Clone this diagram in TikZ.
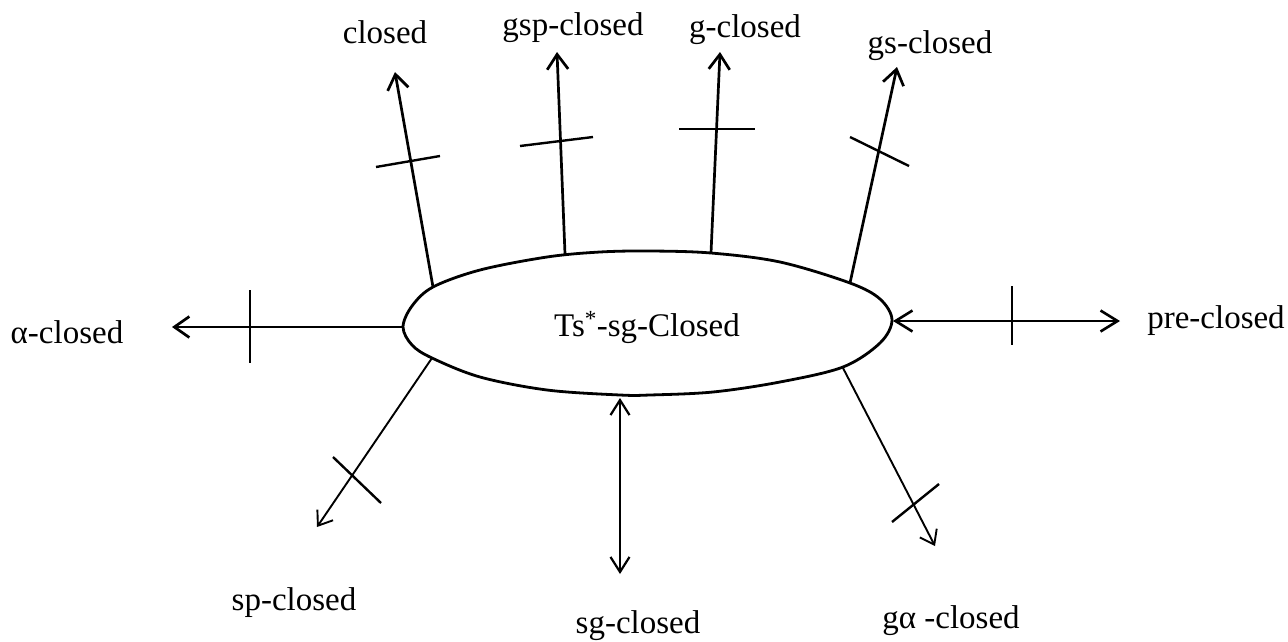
\documentclass[tikz,border=0pt]{standalone}
\usepackage{fontspec}
\setmainfont{Liberation Serif}
\usetikzlibrary{arrows.meta}
\begin{document}
\begin{tikzpicture}[x=1pt,y=-1pt,
  lbl/.style={font=\fontsize{33}{38}\selectfont, anchor=base, inner sep=0pt},
  conn/.style={line width=2.7pt, -{Straight Barb[length=15pt,width=21pt]}},
  thinconn/.style={line width=1.9pt, -{Straight Barb[length=13pt,width=19pt]}},
  bothconn/.style={line width=2.6pt, {Straight Barb[length=17pt,width=21pt]}-{Straight Barb[length=17pt,width=21pt]}},
  sgconn/.style={line width=2.2pt, {Straight Barb[length=15pt,width=19pt]}-{Straight Barb[length=15pt,width=19pt]}},
  tickmark/.style={line width=2.4pt},
  blob/.style={line width=2.8pt}]
\useasboundingbox (0,0) rectangle (1288,641);

% central lens-shaped region
\draw[blob] plot[smooth cycle, tension=0.55] coordinates {
  (403,327) (412,306) (433,287) (480,270) (547,257) (600,252) (650,251)
  (711,253) (780,262) (850,283) (880,299) (892,320) (880,343) (843,367)
  (780,382) (713,392) (650,395) (620,395) (547,390) (480,377) (432,358) (412,345)};
\node[lbl] (c) at (647,336) {Ts\textsuperscript{*}-sg-Closed};

% start points on the boundary
\coordinate (sClosed) at (433,287);
\coordinate (sGsp)    at (565,254);
\coordinate (sG)      at (711,253);
\coordinate (sGs)     at (850,283);
\coordinate (sAlpha)  at (403,327);
\coordinate (sPre)    at (893,321);
\coordinate (sSp)     at (432,358);
\coordinate (sSg)     at (620,398);
\coordinate (sGa)     at (843,368);

% free ends
\coordinate (eClosed) at (395,72);
\coordinate (eGsp)    at (557,52);
\coordinate (eG)      at (720,52);
\coordinate (eGs)     at (897,67);
\coordinate (eAlpha)  at (172,327);
\coordinate (ePre)    at (1120,321);
\coordinate (eSp)     at (317,527);
\coordinate (eSg)     at (620,574);
\coordinate (eGa)     at (935,546);

% labels
\node[lbl] (lClosed) at (385,43)  {closed};
\node[lbl] (lGsp)    at (573,35)  {gsp-closed};
\node[lbl] (lG)      at (745,37)  {g-closed};
\node[lbl] (lGs)     at (930,53)  {gs-closed};
\node[lbl] (lAlpha)  at (67,343)  {α-closed};
\node[lbl] (lPre)    at (1216,328) {pre-closed};
\node[lbl] (lSp)     at (294,610) {sp-closed};
\node[lbl] (lSg)     at (638,633) {sg-closed};
\node[lbl] (lGa)     at (951,628) {gα -closed};

% connectors
\draw[conn] (sClosed) -- (eClosed);
\draw[conn] (sGsp) -- (eGsp);
\draw[conn] (sG) -- (eG);
\draw[conn] (sGs) -- (eGs);
\draw[conn] (sAlpha) -- (eAlpha);
\draw[bothconn] (sPre) -- (ePre);
\draw[thinconn] (sSp) -- (eSp);
\draw[sgconn] (sSg) -- (eSg);
\draw[thinconn] (sGa) -- (eGa);

% negation ticks
\draw[tickmark] (376,167) -- (440,156);
\draw[tickmark] (520,146) -- (593,137);
\draw[tickmark] (679,129) -- (755,129);
\draw[tickmark] (850,137) -- (909,166);
\draw[tickmark] (250,290) -- (250,363);
\draw[tickmark] (1012,286) -- (1012,345);
\draw[tickmark] (333,457) -- (381,503);
\draw[tickmark] (892,522) -- (939,484);
\end{tikzpicture}
\end{document}
